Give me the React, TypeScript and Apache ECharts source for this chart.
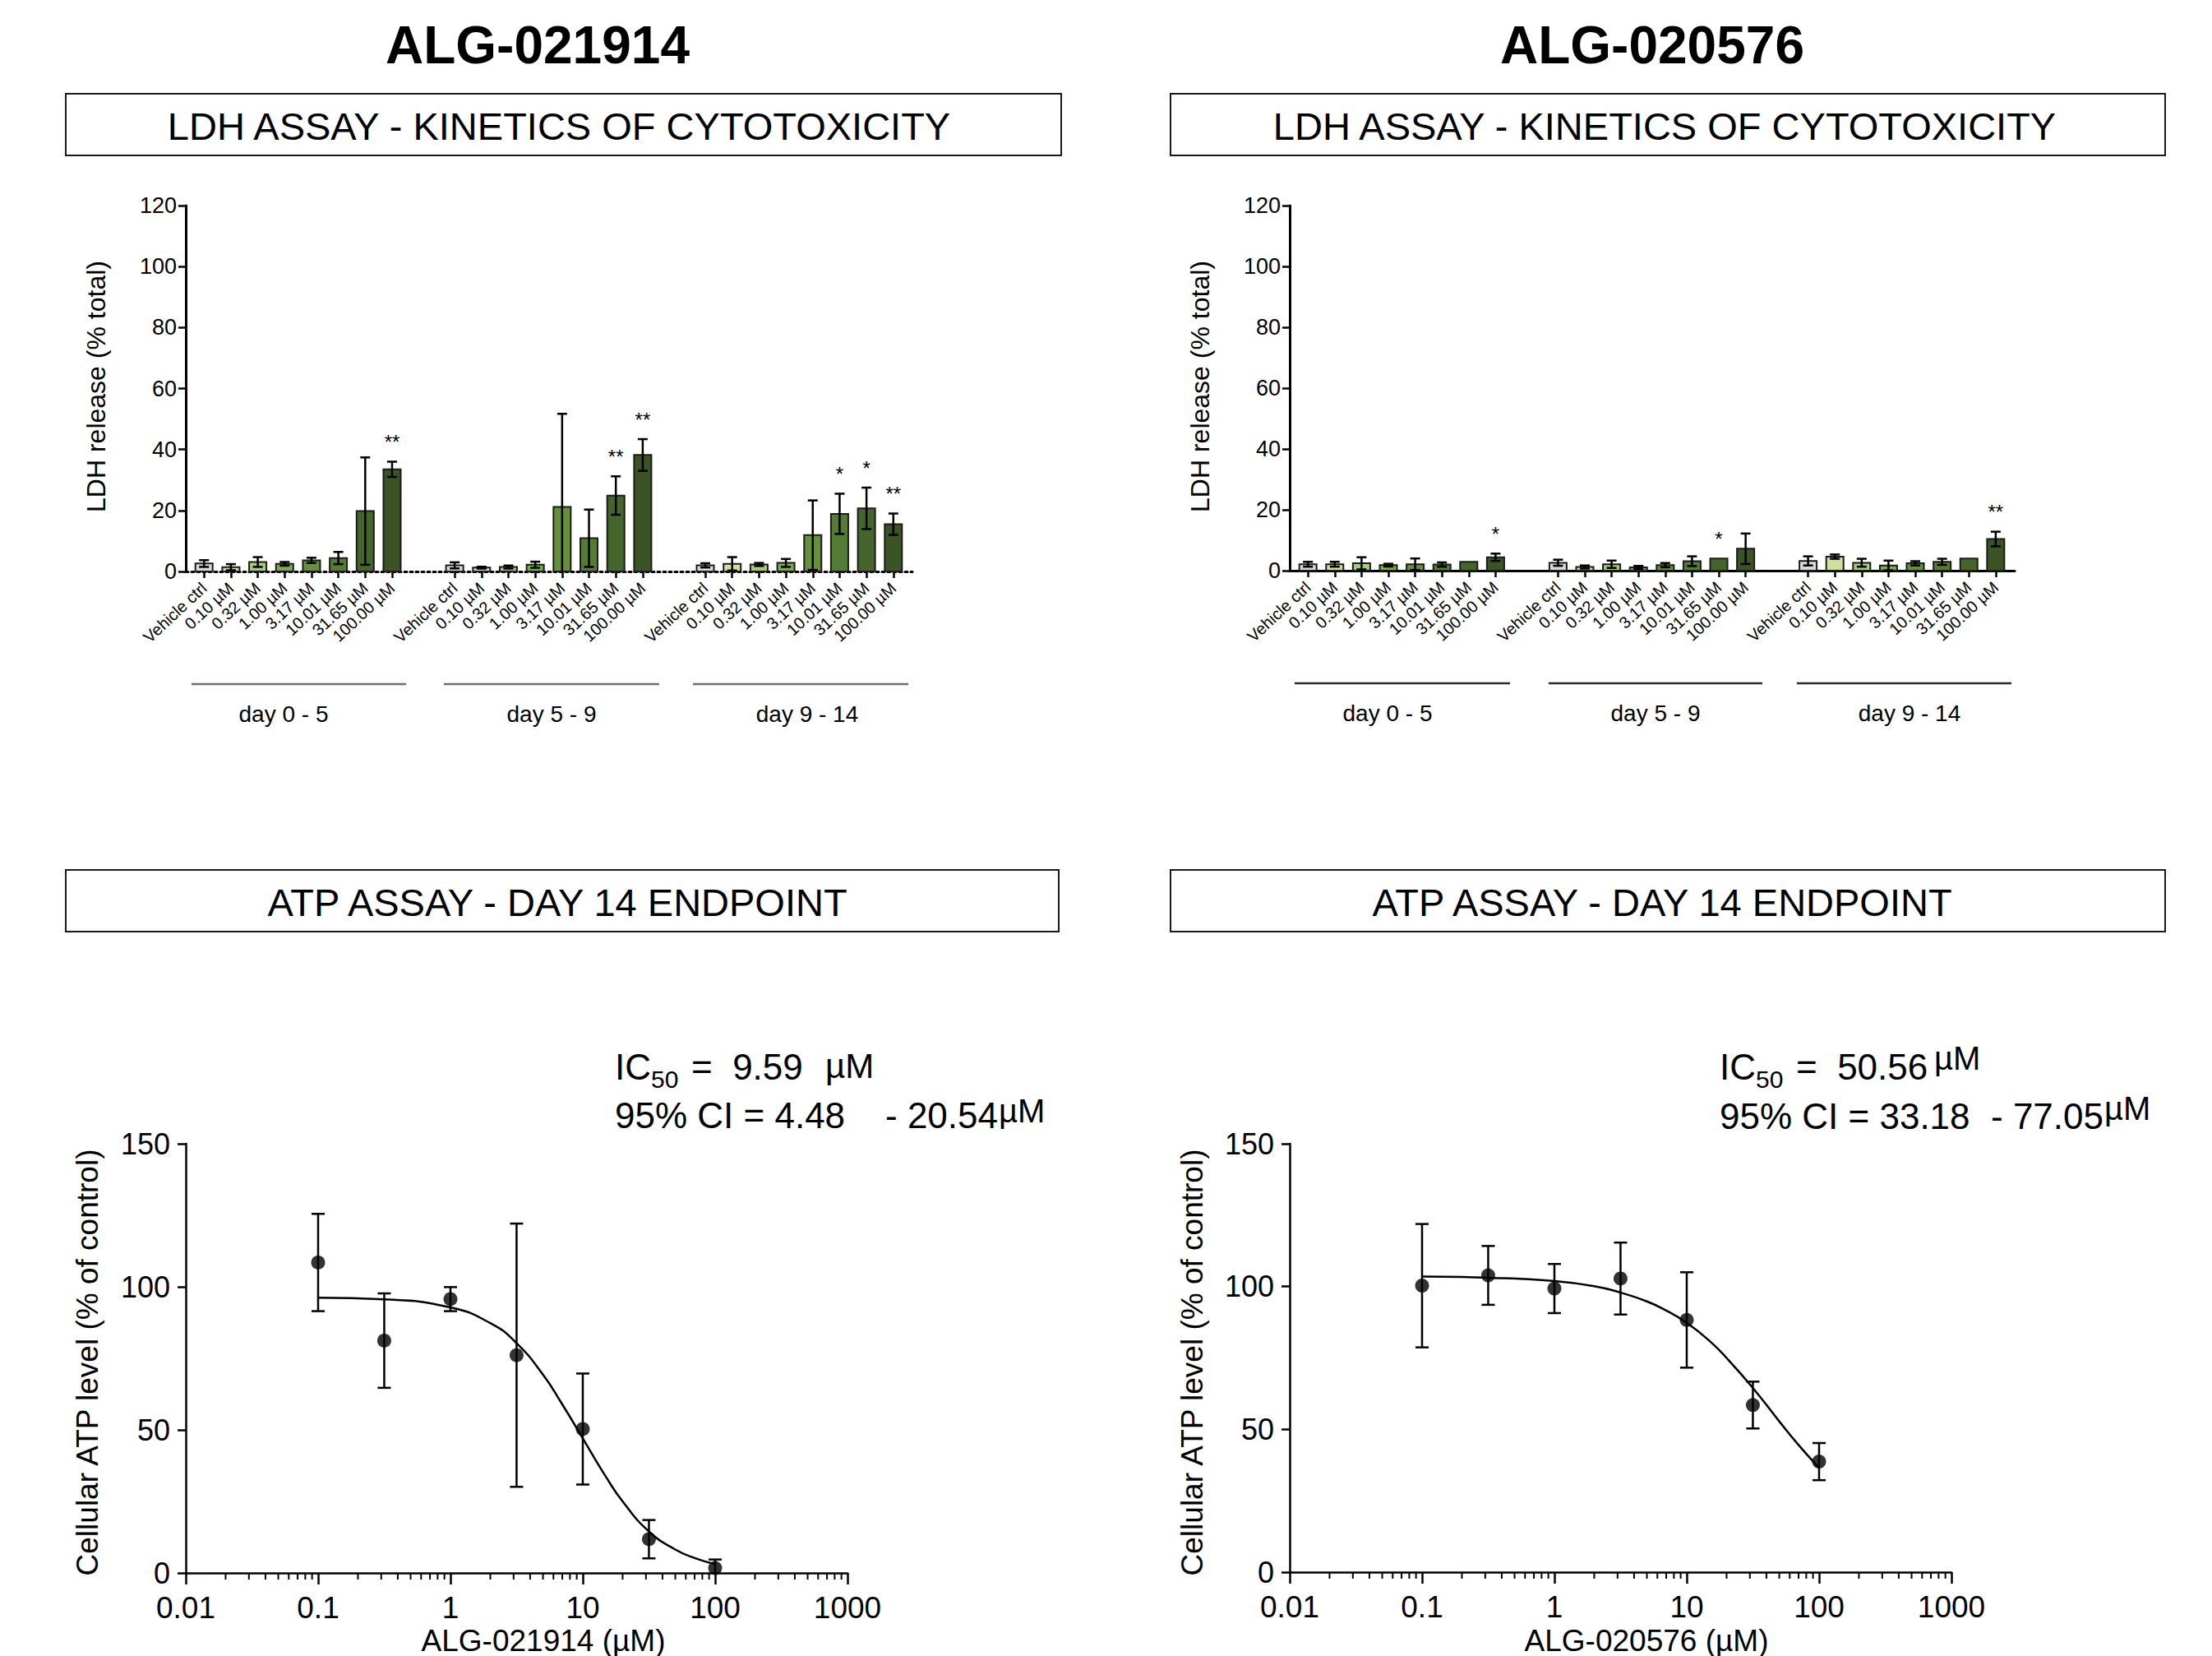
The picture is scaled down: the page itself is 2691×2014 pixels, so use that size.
import React, { useEffect, useRef } from "react";
import * as echarts from "echarts";

const FONT = "'Liberation Sans', Arial, Helvetica, sans-serif";

// ---------- text content ----------
const COMPOUNDS = ["ALG-021914", "ALG-020576"];
const LDH_PANEL_TITLE = "LDH ASSAY - KINETICS OF CYTOTOXICITY";
const ATP_PANEL_TITLE = "ATP ASSAY - DAY 14 ENDPOINT";
const LDH_Y_TITLE = "LDH release (% total)";
const ATP_Y_TITLE = "Cellular ATP level (% of control)";
const CONCENTRATIONS = ["Vehicle ctrl", "0.10 µM", "0.32 µM", "1.00 µM", "3.17 µM", "10.01 µM", "31.65 µM", "100.00 µM"];
const PERIODS = ["day 0 - 5", "day 5 - 9", "day 9 - 14"];
const DOSE_TICK_LABELS = ["0.01", "0.1", "1", "10", "100", "1000"];

// ---------- LDH data (mean, SD, significance) ; rows = periods, cols = concentrations ----------
const LDH_A_MEAN = [
  [2.6, 1.4, 3.1, 2.5, 3.65, 4.4, 19.8, 33.5],
  [2.0, 1.25, 1.45, 2.2, 21.2, 10.9, 24.9, 38.2],
  [2.0, 2.5, 2.3, 2.8, 11.9, 18.9, 20.7, 15.5],
];
const LDH_A_SD = [
  [1.1, 1.0, 1.6, 0.6, 0.85, 2.0, 17.6, 2.5],
  [1.0, 0.3, 0.5, 1.0, 30.5, 9.4, 6.3, 5.2],
  [0.7, 2.2, 0.5, 1.3, 11.4, 6.6, 6.8, 3.5],
];
const LDH_A_SIG = [
  ["", "", "", "", "", "", "", "**"],
  ["", "", "", "", "", "", "**", "**"],
  ["", "", "", "", "", "*", "*", "**"],
];
const LDH_B_MEAN = [
  [2.1, 2.1, 2.4, 1.8, 2.1, 2.0, 2.9, 4.4],
  [2.6, 1.2, 2.1, 1.05, 1.8, 3.1, 4.0, 7.2],
  [3.2, 4.6, 2.6, 1.7, 2.4, 2.9, 4.0, 10.4],
];
const LDH_B_SD = [
  [0.8, 0.8, 2.0, 0.45, 1.9, 0.7, 0, 1.2],
  [1.0, 0.5, 1.2, 0.5, 0.7, 1.6, 0, 5.0],
  [1.5, 0.7, 1.3, 1.6, 0.7, 1.0, 0, 2.4],
];
const LDH_B_SIG = [
  ["", "", "", "", "", "", "", "*"],
  ["", "", "", "", "", "", "*", ""],
  ["", "", "", "", "", "", "", "**"],
];

// ---------- ATP data ----------
const DOSES = [0.1, 0.316, 1, 3.16, 10, 31.6, 100];
const ATP_A_MEAN = [108.5, 81.2, 95.7, 76.1, 50.3, 11.8, 1.7];
const ATP_A_SD = [17, 16.5, 4.2, 46, 19.4, 6.7, 3];
const ATP_B_MEAN = [100.3, 103.9, 99.3, 102.8, 88.3, 58.5, 38.7];
const ATP_B_SD = [21.6, 10.3, 8.6, 12.6, 16.7, 8.2, 6.5];
// fitted curves
const FIT_X = [0.1, 0.316, 1, 2, 3.16, 5, 7, 10, 15, 20, 31.6, 50, 70, 100];
const FIT_A = [96.2, 95.6, 92.8, 87.3, 80.3, 69.3, 58.9, 47.0, 33.5, 25.0, 14.5, 8.2, 5.2, 3.1];
const FIT_B = [103.5, 103.1, 101.9, 100.1, 97.9, 94.8, 91.6, 87.3, 80.8, 75.0, 64.5, 52.8, 44.5, 36.5];

const IC50_A = { ic: "9.59", lo: "4.48", hi: "20.54" };
const IC50_B = { ic: "50.56", lo: "33.18", hi: "77.05" };

// ---------- styles ----------
const BAR_COLORS = ["#d9d9d9", "#cfe09b", "#a5cb7c", "#7aae4b", "#66903e", "#557c35", "#45652c", "#3c5325"];
const GROUP_STEP = 9.33;
const BAR_X_MIN = -0.68;
const BAR_X_MAX = 26.37;

const BAR_POSITIONS: number[] = [];
PERIODS.forEach((_, g) => CONCENTRATIONS.forEach((_, i) => BAR_POSITIONS.push(g * GROUP_STEP + i)));

const MINOR_TICKS: number[] = [];
for (let d = -2; d <= 2; d++) for (let k = 2; k <= 9; k++) MINOR_TICKS.push(d + Math.log10(k));

function barLabel(v: number) {
  const idx = BAR_POSITIONS.findIndex((p) => Math.abs(p - v) < 1e-4);
  return idx >= 0 ? CONCENTRATIONS[idx % CONCENTRATIONS.length] : "";
}

function barData(mean: number[][], sd: number[][]) {
  const out: number[][] = [];
  mean.forEach((row, g) =>
    row.forEach((m, i) => out.push([g * GROUP_STEP + i, m, sd[g][i], i, g]))
  );
  return out;
}

function makeBarRender(sig: string[][]) {
  return (params: any, api: any) => {
    const x = api.value(0);
    const m = api.value(1);
    const sd = api.value(2);
    const ci = api.value(3);
    const g = api.value(4);
    const base = api.coord([x, 0]);
    const top = api.coord([x, m]);
    const hi = api.coord([x, m + sd]);
    const lowVal = m - sd;
    const lo = api.coord([x, Math.max(0, lowVal)]);
    const bw = 21;
    const cap = 6;
    const st = { stroke: "#000", lineWidth: 2.5 };
    const children: any[] = [
      {
        type: "rect",
        shape: { x: base[0] - bw / 2, y: top[1], width: bw, height: base[1] - top[1] },
        style: { fill: BAR_COLORS[ci], stroke: "#1c1c1c", lineWidth: 2 },
      },
    ];
    if (sd > 0) {
      children.push({ type: "line", shape: { x1: hi[0], y1: hi[1], x2: lo[0], y2: lo[1] }, style: st });
      children.push({ type: "line", shape: { x1: hi[0] - cap, y1: hi[1], x2: hi[0] + cap, y2: hi[1] }, style: st });
      if (lowVal > 0)
        children.push({ type: "line", shape: { x1: lo[0] - cap, y1: lo[1], x2: lo[0] + cap, y2: lo[1] }, style: st });
    }
    const s = sig[g][ci];
    if (s) {
      children.push({
        type: "text",
        x: hi[0],
        y: hi[1] - 12,
        style: { text: s, fontSize: 24, fontFamily: FONT, fill: "#000", align: "center", verticalAlign: "bottom" },
      });
    }
    return { type: "group", children };
  };
}

const errRender = (params: any, api: any) => {
  const x = api.value(0);
  const m = api.value(1);
  const sd = api.value(2);
  const hi = api.coord([x, m + sd]);
  const lo = api.coord([x, Math.max(0, m - sd)]);
  const c = 8;
  const st = { stroke: "#000", lineWidth: 2.5 };
  const ch: any[] = [
    { type: "line", shape: { x1: hi[0], y1: hi[1], x2: lo[0], y2: lo[1] }, style: st },
    { type: "line", shape: { x1: hi[0] - c, y1: hi[1], x2: hi[0] + c, y2: hi[1] }, style: st },
  ];
  if (m - sd > 0) ch.push({ type: "line", shape: { x1: lo[0] - c, y1: lo[1], x2: lo[0] + c, y2: lo[1] }, style: st });
  return { type: "group", children: ch };
};

const minorRender = (params: any, api: any) => {
  const p = api.coord([api.value(0), 0]);
  return { type: "line", shape: { x1: p[0], y1: p[1], x2: p[0], y2: p[1] + 8 }, style: { stroke: "#000", lineWidth: 2 } };
};

function barXAxis(gridIndex: number, dotted: boolean) {
  return {
    gridIndex,
    type: "value",
    min: BAR_X_MIN,
    max: BAR_X_MAX,
    axisLine: { show: true, onZero: false, lineStyle: { color: "#000", width: 3, type: dotted ? [3, 4] : "solid" } },
    axisTick: { show: true, customValues: BAR_POSITIONS, length: 8, lineStyle: { color: "#000", width: 2.5 } },
    axisLabel: {
      show: true,
      customValues: BAR_POSITIONS,
      rotate: 43,
      fontSize: 20,
      color: "#000",
      fontFamily: FONT,
      margin: 17,
      hideOverlap: false,
      formatter: barLabel,
    },
    splitLine: { show: false },
  };
}

function barYAxis(gridIndex: number) {
  return {
    gridIndex,
    type: "value",
    min: 0,
    max: 120,
    interval: 20,
    axisLine: { show: true, onZero: false, lineStyle: { color: "#000", width: 3 } },
    axisTick: { show: true, length: 9, lineStyle: { color: "#000", width: 2.5 } },
    axisLabel: { fontSize: 27, color: "#000", fontFamily: FONT, margin: 11 },
    splitLine: { show: false },
  };
}

function doseXAxis(gridIndex: number) {
  return {
    gridIndex,
    type: "value",
    min: -2,
    max: 3,
    interval: 1,
    axisLine: { show: true, onZero: false, lineStyle: { color: "#000", width: 2.5 } },
    axisTick: { show: true, length: 14, lineStyle: { color: "#000", width: 2.5 } },
    axisLabel: {
      fontSize: 37,
      color: "#000",
      fontFamily: FONT,
      margin: 24,
      formatter: (v: number) => DOSE_TICK_LABELS[Math.round(v) + 2] ?? "",
    },
    splitLine: { show: false },
  };
}

function doseYAxis(gridIndex: number) {
  return {
    gridIndex,
    type: "value",
    min: 0,
    max: 150,
    interval: 50,
    axisLine: { show: true, onZero: false, lineStyle: { color: "#000", width: 2.5 } },
    axisTick: { show: true, length: 10, lineStyle: { color: "#000", width: 2.5 } },
    axisLabel: { fontSize: 36, color: "#000", fontFamily: FONT, margin: 19 },
    splitLine: { show: false },
  };
}

function doseSeries(idx: number, mean: number[], sd: number[], fit: number[]) {
  return [
    {
      type: "line",
      xAxisIndex: idx,
      yAxisIndex: idx,
      data: FIT_X.map((x, i) => [Math.log10(x), fit[i]]),
      smooth: 0.5,
      showSymbol: false,
      symbol: "none",
      lineStyle: { color: "#000", width: 2.5 },
      silent: true,
      z: 3,
    },
    {
      type: "custom",
      xAxisIndex: idx,
      yAxisIndex: idx,
      data: DOSES.map((d, i) => [Math.log10(d), mean[i], sd[i]]),
      encode: { x: 0, y: 1 },
      renderItem: errRender,
      clip: false,
      silent: true,
      z: 4,
    },
    {
      type: "scatter",
      xAxisIndex: idx,
      yAxisIndex: idx,
      data: DOSES.map((d, i) => [Math.log10(d), mean[i]]),
      symbolSize: 17,
      itemStyle: { color: "#000" },
      silent: true,
      z: 5,
    },
    {
      type: "custom",
      xAxisIndex: idx,
      yAxisIndex: idx,
      data: MINOR_TICKS.map((v) => [v, 0]),
      encode: { x: 0, y: 1 },
      renderItem: minorRender,
      clip: false,
      silent: true,
      z: 6,
    },
  ];
}

function txt(text: string, x: number, y: number, fontSize: number, extra: any = {}) {
  return {
    type: "text",
    x,
    y,
    rotation: extra.rotation || 0,
    style: {
      text,
      fontSize,
      fontFamily: FONT,
      fontWeight: extra.bold ? "bold" : "normal",
      fill: "#000",
      align: extra.align || "center",
      verticalAlign: "middle",
    },
  };
}

function box(x: number, y: number, w: number, h: number) {
  return { type: "rect", shape: { x, y, width: w, height: h }, style: { fill: "none", stroke: "#1a1a1a", lineWidth: 2 } };
}

function hline(x1: number, x2: number, y: number, color: string) {
  return { type: "line", shape: { x1, y1: y, x2, y2: y }, style: { stroke: color, lineWidth: 2.5 } };
}

function buildGraphic() {
  const g: any[] = [];
  // compound titles
  g.push(txt(COMPOUNDS[0], 654, 55, 64, { bold: true }));
  g.push(txt(COMPOUNDS[1], 2010, 55, 64, { bold: true }));
  // panel boxes
  g.push(box(80, 114, 1211, 75), box(1424, 114, 1210, 75), box(80, 1058, 1208, 75), box(1424, 1058, 1210, 75));
  g.push(txt(LDH_PANEL_TITLE, 680, 153, 47), txt(LDH_PANEL_TITLE, 2025, 153, 47));
  g.push(txt(ATP_PANEL_TITLE, 678, 1097, 47), txt(ATP_PANEL_TITLE, 2022, 1097, 47));
  // axis titles
  g.push(txt(LDH_Y_TITLE, 117, 470, 32, { rotation: Math.PI / 2 }));
  g.push(txt(LDH_Y_TITLE, 1460, 470, 32, { rotation: Math.PI / 2 }));
  g.push(txt(ATP_Y_TITLE, 106, 1657, 37, { rotation: Math.PI / 2 }));
  g.push(txt(ATP_Y_TITLE, 1450, 1657, 37, { rotation: Math.PI / 2 }));
  g.push(txt(COMPOUNDS[0] + " (µM)", 661, 1995, 37));
  g.push(txt(COMPOUNDS[1] + " (µM)", 2003, 1995, 37));
  // period brackets
  const leftLines = [[233, 494], [540, 802], [843, 1105]];
  const rightLines = [[1575, 1837], [1884, 2144], [2186, 2447]];
  const leftText = [345, 671, 982];
  const rightText = [1688, 2014, 2323];
  PERIODS.forEach((p, i) => {
    g.push(hline(leftLines[i][0], leftLines[i][1], 832, "#6e6e6e"));
    g.push(hline(rightLines[i][0], rightLines[i][1], 831, "#2a2a2a"));
    g.push(txt(p, leftText[i], 868, 28));
    g.push(txt(p, rightText[i], 867, 28));
  });
  // IC50 annotations (left)
  g.push(txt("IC", 748, 1297, 44, { align: "left" }));
  g.push(txt("50", 792, 1312, 30, { align: "left" }));
  g.push(txt("=  " + IC50_A.ic, 841, 1297, 44, { align: "left" }));
  g.push(txt("µM", 1004, 1296, 42, { align: "left" }));
  g.push(txt("95% CI = " + IC50_A.lo, 748, 1356, 44, { align: "left" }));
  g.push(txt("- " + IC50_A.hi, 1077, 1356, 44, { align: "left" }));
  g.push(txt("µM", 1215, 1351, 40, { align: "left" }));
  // IC50 annotations (right)
  g.push(txt("IC", 2092, 1297, 44, { align: "left" }));
  g.push(txt("50", 2136, 1312, 30, { align: "left" }));
  g.push(txt("=  " + IC50_B.ic, 2185, 1297, 44, { align: "left" }));
  g.push(txt("µM", 2353, 1287, 40, { align: "left" }));
  g.push(txt("95% CI = " + IC50_B.lo, 2092, 1357, 44, { align: "left" }));
  g.push(txt("- " + IC50_B.hi, 2422, 1357, 44, { align: "left" }));
  g.push(txt("µM", 2560, 1348, 40, { align: "left" }));
  return g;
}

export default function App() {
  const ref = useRef<HTMLDivElement>(null);
  useEffect(() => {
    document.body.style.margin = "0";
    if (!ref.current) return;
    const chart = echarts.init(ref.current, null, { renderer: "svg" });
    const option: any = {
      animation: false,
      backgroundColor: "#ffffff",
      textStyle: { fontFamily: FONT },
      grid: [
        { left: 226, top: 250, width: 884, height: 445, outerBoundsMode: "none" },
        { left: 1569, top: 250, width: 882, height: 444, outerBoundsMode: "none" },
        { left: 226, top: 1391, width: 805, height: 522, outerBoundsMode: "none" },
        { left: 1569, top: 1391, width: 805, height: 521, outerBoundsMode: "none" },
      ],
      xAxis: [barXAxis(0, true), barXAxis(1, false), doseXAxis(2), doseXAxis(3)],
      yAxis: [barYAxis(0), barYAxis(1), doseYAxis(2), doseYAxis(3)],
      series: [
        {
          type: "custom",
          xAxisIndex: 0,
          yAxisIndex: 0,
          data: barData(LDH_A_MEAN, LDH_A_SD),
          encode: { x: 0, y: 1 },
          renderItem: makeBarRender(LDH_A_SIG),
          clip: false,
          silent: true,
          z: 3,
        },
        {
          type: "custom",
          xAxisIndex: 1,
          yAxisIndex: 1,
          data: barData(LDH_B_MEAN, LDH_B_SD),
          encode: { x: 0, y: 1 },
          renderItem: makeBarRender(LDH_B_SIG),
          clip: false,
          silent: true,
          z: 3,
        },
        ...doseSeries(2, ATP_A_MEAN, ATP_A_SD, FIT_A),
        ...doseSeries(3, ATP_B_MEAN, ATP_B_SD, FIT_B),
      ],
      graphic: buildGraphic(),
    };
    chart.setOption(option);
    return () => chart.dispose();
  }, []);
  return <div ref={ref} style={{ width: 2691, height: 2014 }} />;
}
